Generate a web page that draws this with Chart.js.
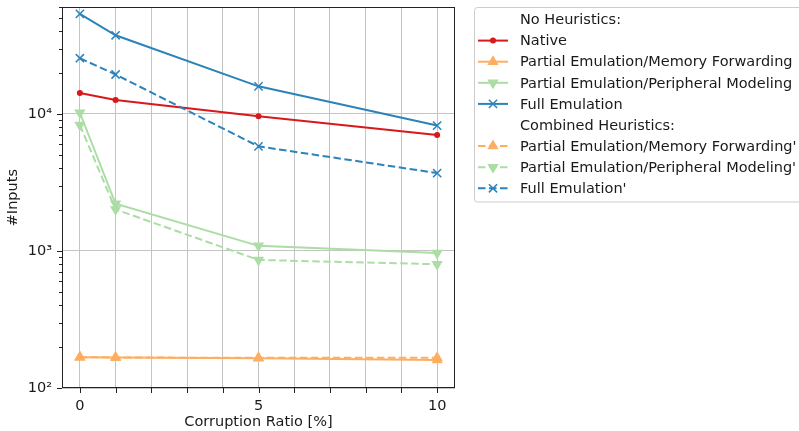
<!DOCTYPE html>
<html><head><meta charset="utf-8">
<script src="https://cdn.jsdelivr.net/npm/chart.js@4"></script>
<style>html,body{margin:0;padding:0;background:#fff;overflow:hidden}</style>
</head><body>
<canvas id="c" width="799" height="431"></canvas>
<script>
// ---- data ----
const corruptionRatios = [0, 1, 5, 10];
const nativeInputs      = [14200, 12650, 9600, 7030];
const memFwdInputs      = [168, 167, 165, 160];
const periphInputs      = [10200, 2210, 1090, 965];
const fullEmuInputs     = [53700, 37500, 15900, 8220];
const memFwdCombInputs  = [168, 167, 166, 166];
const periphCombInputs  = [8300, 2010, 860, 800];
const fullEmuCombInputs = [25500, 19400, 5800, 3700];

const xGridValues  = [0,1,2,3,4,5,6,7,8,9,10];
const xTickValues  = [0, 5, 10];
const xTickLabels  = ['0', '5', '10'];
const yTickValues  = [100, 1000, 10000];
const yTickLabels  = ['10\u00B2', '10\u00B3', '10\u2074'];
const legendHeaders = ['No Heuristics:', 'Combined Heuristics:'];
const seriesNames = ['Native', 'Partial Emulation/Memory Forwarding', 'Partial Emulation/Peripheral Modeling', 'Full Emulation',
  "Partial Emulation/Memory Forwarding'", "Partial Emulation/Peripheral Modeling'", "Full Emulation'"];

const RED = '#d7191c', ORANGE = '#fdae61', GREEN = '#abdda4', BLUE = '#2b83ba';
const FONT = '"DejaVu Sans", sans-serif';
const FS = 14.5;
const TXT = '#1a1a1a';

function pts(ys) { return corruptionRatios.map((x, i) => ({x: x, y: ys[i]})); }

function ds(label, ys, color, style, rot, dashed, radius, bw) {
  return {
    label: label, data: pts(ys), borderColor: color, backgroundColor: color,
    borderWidth: 2, borderDash: dashed ? [7.5, 3.5] : [], tension: 0, fill: false,
    pointStyle: style, pointRotation: rot, pointRadius: radius,
    pointBorderWidth: bw, pointBackgroundColor: color, pointBorderColor: color,
    pointHoverRadius: radius
  };
}

const datasets = [
  ds(seriesNames[0], nativeInputs, RED, 'circle', 0, false, 3, 0),
  ds(seriesNames[1], memFwdInputs, ORANGE, 'triangle', 0, false, 5.3, 1.2),
  ds(seriesNames[2], periphInputs, GREEN, 'triangle', 180, false, 5.3, 1.2),
  ds(seriesNames[3], fullEmuInputs, BLUE, 'crossRot', 0, false, 5.8, 1.5),
  ds(seriesNames[4], memFwdCombInputs, ORANGE, 'triangle', 0, true, 5.3, 1.2),
  ds(seriesNames[5], periphCombInputs, GREEN, 'triangle', 180, true, 5.3, 1.2),
  ds(seriesNames[6], fullEmuCombInputs, BLUE, 'crossRot', 0, true, 5.8, 1.5)
];
datasets.forEach((d, i) => { d.order = 20 - i; });

const framePlugin = {
  id: 'frame',
  afterDatasetsDraw(chart) {
    const ctx = chart.ctx, a = chart.chartArea;
    const xs = chart.scales.x, ys = chart.scales.y;
    ctx.save();
    ctx.strokeStyle = '#222';
    ctx.lineWidth = 1;
    ctx.strokeRect(Math.round(a.left) + 0.5, Math.round(a.top) + 0.5, Math.round(a.right - a.left) - 1, Math.round(a.bottom - a.top) - 1);
    ctx.beginPath();
    xGridValues.forEach(v => {
      const px = Math.round(xs.getPixelForValue(v)) + 0.5;
      ctx.moveTo(px, a.bottom); ctx.lineTo(px, a.bottom + 5);
    });
    ys.ticks.forEach(t => {
      const py = Math.round(ys.getPixelForValue(t.value)) + 0.5;
      const major = yTickValues.includes(t.value);
      ctx.moveTo(a.left, py); ctx.lineTo(a.left - (major ? 5 : 3), py);
    });
    ctx.stroke();
    ctx.restore();
  },
  afterDraw(chart) {
    const ctx = chart.ctx;
    ctx.save();
    const bx = 474.5, by = 7.5, bw = 400, bh = 194.5, r = 3;
    ctx.beginPath();
    ctx.moveTo(bx + r, by); ctx.lineTo(bx + bw - r, by); ctx.arcTo(bx + bw, by, bx + bw, by + r, r);
    ctx.lineTo(bx + bw, by + bh - r); ctx.arcTo(bx + bw, by + bh, bx + bw - r, by + bh, r);
    ctx.lineTo(bx + r, by + bh); ctx.arcTo(bx, by + bh, bx, by + bh - r, r);
    ctx.lineTo(bx, by + r); ctx.arcTo(bx, by, bx + r, by, r);
    ctx.closePath();
    ctx.fillStyle = 'rgba(255,255,255,0.8)';
    ctx.fill();
    ctx.strokeStyle = '#cccccc';
    ctx.lineWidth = 1;
    ctx.stroke();

    const rows = [{header: legendHeaders[0]}, 0, 1, 2, 3, {header: legendHeaders[1]}, 4, 5, 6];
    const y0 = 19.5, dy = 21.1, hx0 = 478, hx1 = 508, tx = 520;
    ctx.font = FS + 'px ' + FONT;
    ctx.textBaseline = 'middle';
    ctx.textAlign = 'left';
    rows.forEach((row, i) => {
      const y = y0 + i * dy;
      if (typeof row === 'object') {
        ctx.fillStyle = TXT;
        ctx.fillText(row.header, tx, y + 1);
        return;
      }
      const d = chart.data.datasets[row];
      ctx.save();
      ctx.strokeStyle = d.borderColor;
      ctx.lineWidth = d.borderWidth;
      ctx.setLineDash(d.borderDash);
      ctx.beginPath(); ctx.moveTo(hx0, y); ctx.lineTo(hx1, y); ctx.stroke();
      ctx.setLineDash([]);
      ctx.fillStyle = d.pointBackgroundColor;
      ctx.strokeStyle = d.pointBorderColor;
      ctx.lineWidth = d.pointBorderWidth;
      Chart.helpers.drawPoint(ctx, {pointStyle: d.pointStyle, rotation: d.pointRotation, radius: d.pointRadius, borderWidth: d.pointBorderWidth}, (hx0 + hx1) / 2, y);
      ctx.restore();
      ctx.fillStyle = TXT;
      ctx.fillText(d.label, tx, y + 1);
    });
    ctx.restore();
  }
};

new Chart(document.getElementById('c'), {
  type: 'line',
  data: {datasets: datasets},
  plugins: [framePlugin],
  options: {
    responsive: false, animation: false, devicePixelRatio: 1,
    layout: {padding: {left: 0, right: 344, top: 7, bottom: 0}},
    plugins: {legend: {display: false}, tooltip: {enabled: false}},
    scales: {
      x: {
        type: 'linear', min: -0.5, max: 10.5,
        afterBuildTicks: s => { s.ticks = xGridValues.map(v => ({value: v})); },
        afterFit: s => { s.height = 43; s.paddingLeft = 0; s.paddingRight = 0; },
        border: {display: false},
        grid: {color: '#c4c4c4', lineWidth: 1, drawTicks: false},
        ticks: {
          autoSkip: false, maxRotation: 0, padding: 10, color: TXT,
          font: {family: FONT, size: FS},
          callback: v => { const k = xTickValues.indexOf(v); return k >= 0 ? xTickLabels[k] : ''; }
        },
        title: {display: true, text: 'Corruption Ratio [%]', color: TXT, font: {family: FONT, size: FS}, padding: {top: 0, bottom: 0}}
      },
      y: {
        type: 'logarithmic', min: 100, max: 60000,
        afterBuildTicks: s => {
          const t = [];
          yTickValues.forEach(base => { for (let k = 1; k <= 9; k++) { const v = base * k; if (v <= 60000) t.push({value: v}); } });
          s.ticks = t;
        },
        afterFit: s => { s.width = 62; s.paddingTop = 0; s.paddingBottom = 0; },
        border: {display: false},
        grid: {
          drawTicks: false, lineWidth: 1,
          color: c => (c.tick && yTickValues.includes(c.tick.value)) ? '#c4c4c4' : 'rgba(0,0,0,0)'
        },
        ticks: {
          autoSkip: false, padding: 10, color: TXT, font: {family: FONT, size: FS},
          callback: v => { const k = yTickValues.indexOf(v); return k >= 0 ? yTickLabels[k] : ''; }
        },
        title: {display: true, text: '#Inputs', color: TXT, font: {family: FONT, size: FS}, padding: {top: 5, bottom: 0}}
      }
    }
  }
});
</script>
</body></html>
